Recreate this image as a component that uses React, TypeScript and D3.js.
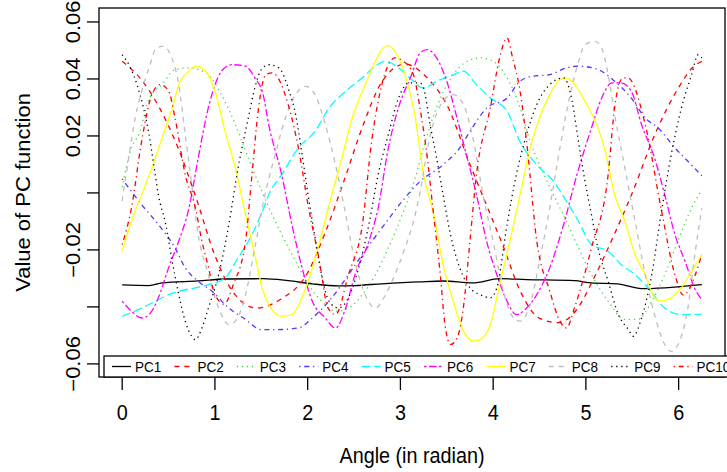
import React from "react";
import * as d3 from "d3";

const width = 727;
const height = 472;
const box = { left: 99, right: 725, top: 8, bottom: 377 };
const font = "'Liberation Sans', Arial, Helvetica, sans-serif";

// axis ticks
const xTicks = [0, 1, 2, 3, 4, 5, 6];
const yTicks = [-0.06, -0.04, -0.02, 0, 0.02, 0.04, 0.06];
const yTickLabels = ["−0.06", "", "−0.02", "", "0.02", "0.04", "0.06"];

// PC functions, [angle, value]
const pc1: [number, number][] = [
  [0, -0.0323], [0.29, -0.0325], [0.43, -0.0316], [0.82, -0.0309], [1.11, -0.0302],
  [1.52, -0.0301], [1.79, -0.0308], [2.05, -0.0319], [2.33, -0.0326], [2.51, -0.0325],
  [2.8, -0.0319], [3.21, -0.0312], [3.46, -0.0309], [3.78, -0.0316], [4.07, -0.0301],
  [4.36, -0.0304], [4.88, -0.0308], [5.06, -0.0316], [5.34, -0.0319], [5.6, -0.0336],
  [5.85, -0.0333], [6.25, -0.0322],
];
const pc2: [number, number][] = [
  [0, 0.0462], [0.2, 0.04], [0.4, 0.03], [0.6, 0.016], [0.8, -0.002], [1.0, -0.022],
  [1.2, -0.035], [1.45, -0.0404], [1.7, -0.0375], [2.0, -0.028], [2.2, -0.013],
  [2.4, 0.005], [2.6, 0.024], [2.8, 0.039], [3.05, 0.0452], [3.3, 0.04], [3.5, 0.031],
  [3.75, 0.01], [3.95, -0.006], [4.1, -0.018], [4.3, -0.035], [4.5, -0.044],
  [4.7, -0.0455], [4.9, -0.041], [5.1, -0.029], [5.3, -0.015], [5.5, 0.0], [5.75, 0.021],
  [6.0, 0.037], [6.15, 0.044], [6.25, 0.0462],
];
const pc3: [number, number][] = [
  [0, 0.002], [0.1, 0.016], [0.18, 0.0205], [0.29, 0.033], [0.43, 0.038], [0.57, 0.0433],
  [0.72, 0.0439], [0.82, 0.0433], [0.93, 0.0415], [1.07, 0.0345], [1.22, 0.024],
  [1.36, 0.0123], [1.5, 0.001], [1.58, -0.005], [1.72, -0.0146], [1.87, -0.024],
  [2.01, -0.0322], [2.15, -0.038], [2.3, -0.0415], [2.44, -0.0404], [2.59, -0.0357],
  [2.73, -0.0287], [2.87, -0.0193], [3.02, -0.0076], [3.16, 0.0053], [3.25, 0.016],
  [3.39, 0.03], [3.57, 0.0415], [3.72, 0.0462], [3.86, 0.0474], [4.0, 0.0462],
  [4.15, 0.0404], [4.29, 0.03], [4.4, 0.018], [4.5, 0.0099], [4.65, -0.0006],
  [4.79, -0.0099], [4.92, -0.0193], [5.06, -0.0287], [5.24, -0.038], [5.42, -0.0444],
  [5.56, -0.0444], [5.71, -0.038], [5.85, -0.0287], [5.99, -0.017], [6.14, -0.0053],
  [6.25, 0.0012],
];
const pc4: [number, number][] = [
  [0, 0.0049], [0.21, -0.0041], [0.39, -0.0111], [0.57, -0.0193], [0.68, -0.0263],
  [0.82, -0.031], [0.97, -0.0345], [1.15, -0.0404], [1.33, -0.0444], [1.5, -0.048],
  [1.65, -0.048], [1.9, -0.0474], [2.05, -0.0439], [2.26, -0.0368], [2.44, -0.0287],
  [2.59, -0.0216], [2.8, -0.0123], [3.02, -0.0029], [3.21, 0.004], [3.46, 0.0099],
  [3.64, 0.0158], [3.75, 0.0216], [3.93, 0.0298], [4.15, 0.0333], [4.29, 0.0392],
  [4.43, 0.041], [4.61, 0.0415], [4.79, 0.0439], [4.92, 0.0445], [5.13, 0.0433],
  [5.31, 0.0392], [5.49, 0.0333], [5.64, 0.0263], [5.78, 0.0228], [5.96, 0.0158],
  [6.1, 0.0111], [6.25, 0.006],
];
const pc5: [number, number][] = [
  [0, -0.0433], [0.21, -0.0404], [0.36, -0.038], [0.5, -0.0357], [0.61, -0.0345],
  [0.79, -0.0333], [0.93, -0.0322], [1.11, -0.0298], [1.25, -0.0228], [1.4, -0.0146],
  [1.52, -0.0058], [1.58, -0.0006], [1.72, 0.0064], [1.9, 0.0158], [2.08, 0.0216],
  [2.23, 0.0298], [2.41, 0.0357], [2.59, 0.0404], [2.73, 0.0445], [2.84, 0.0462],
  [2.98, 0.0439], [3.12, 0.0398], [3.25, 0.0368], [3.39, 0.0392], [3.57, 0.0415],
  [3.68, 0.0427], [3.82, 0.038], [3.97, 0.0333], [4.15, 0.0287], [4.29, 0.018],
  [4.47, 0.0099], [4.65, 0.0041], [4.79, -0.0029], [4.92, -0.0099], [5.06, -0.0181],
  [5.24, -0.0205], [5.38, -0.0251], [5.53, -0.0287], [5.67, -0.0333], [5.85, -0.0404],
  [6.03, -0.0427], [6.25, -0.0425],
];
const pc6: [number, number][] = [
  [0, -0.038], [0.1, -0.0415], [0.21, -0.0439], [0.29, -0.0427], [0.39, -0.0368],
  [0.5, -0.0263], [0.61, -0.0169], [0.72, -0.0053], [0.82, 0.0123], [0.93, 0.03],
  [1.07, 0.0427], [1.18, 0.045], [1.33, 0.0445], [1.43, 0.0404], [1.52, 0.0345],
  [1.58, 0.024], [1.72, 0.0064], [1.83, -0.0111], [1.94, -0.0263], [2.05, -0.038],
  [2.19, -0.0439], [2.3, -0.0474], [2.41, -0.0404], [2.51, -0.0287], [2.66, -0.017],
  [2.76, -0.0053], [2.87, 0.0158], [2.98, 0.03], [3.12, 0.0415], [3.21, 0.049],
  [3.29, 0.0503], [3.39, 0.0474], [3.5, 0.0392], [3.61, 0.0263], [3.72, 0.0123],
  [3.82, -0.0006], [3.93, -0.017], [4.04, -0.0287], [4.15, -0.038], [4.25, -0.0427],
  [4.36, -0.0404], [4.47, -0.0357], [4.61, -0.0263], [4.76, -0.0111], [4.9, 0.006],
  [5.06, 0.0228], [5.17, 0.0333], [5.28, 0.0386], [5.38, 0.0386], [5.49, 0.0357],
  [5.6, 0.024], [5.74, 0.0123], [5.85, -0.0006], [5.96, -0.0146], [6.07, -0.024],
  [6.17, -0.0333], [6.25, -0.0374],
];
const pc7: [number, number][] = [
  [0, -0.0205], [0.1, -0.0099], [0.21, -0.0006], [0.32, 0.0088], [0.43, 0.0193],
  [0.54, 0.0298], [0.61, 0.038], [0.72, 0.0427], [0.79, 0.0445], [0.9, 0.0427],
  [1.0, 0.0357], [1.11, 0.0216], [1.22, 0.0088], [1.33, -0.0076], [1.43, -0.0216],
  [1.51, -0.0335], [1.58, -0.0392], [1.72, -0.0433], [1.83, -0.0427], [1.94, -0.0368],
  [2.05, -0.0263], [2.15, -0.0146], [2.26, -0.0006], [2.37, 0.0123], [2.48, 0.0263],
  [2.62, 0.038], [2.73, 0.0462], [2.8, 0.0503], [2.87, 0.0518], [2.94, 0.0497],
  [3.05, 0.0415], [3.16, 0.0263], [3.25, 0.0064], [3.36, -0.0076], [3.46, -0.0251],
  [3.57, -0.038], [3.68, -0.0485], [3.79, -0.052], [3.86, -0.0515], [3.97, -0.0462],
  [4.07, -0.0322], [4.18, -0.017], [4.29, -0.0006], [4.4, 0.0158], [4.5, 0.0263],
  [4.61, 0.0345], [4.72, 0.0398], [4.79, 0.0404], [4.88, 0.038], [4.99, 0.0322],
  [5.1, 0.0252], [5.2, 0.0158], [5.31, -0.0006], [5.42, -0.0099], [5.53, -0.0216],
  [5.64, -0.0287], [5.74, -0.0368], [5.81, -0.038], [5.92, -0.0368], [6.03, -0.0333],
  [6.14, -0.0275], [6.25, -0.0216],
];
const pc8: [number, number][] = [
  [0, -0.0029], [0.07, 0.0123], [0.14, 0.0263], [0.21, 0.0357], [0.29, 0.0439],
  [0.37, 0.0509], [0.45, 0.0515], [0.52, 0.0485], [0.61, 0.038], [0.68, 0.0205],
  [0.75, 0.0029], [0.82, -0.0146], [0.93, -0.0287], [1.04, -0.0404], [1.15, -0.0462],
  [1.22, -0.045], [1.33, -0.0357], [1.43, -0.0193], [1.53, -0.002], [1.65, 0.0134],
  [1.76, 0.0263], [1.87, 0.0345], [1.98, 0.0374], [2.08, 0.0345], [2.19, 0.024],
  [2.3, 0.0099], [2.41, -0.0076], [2.51, -0.024], [2.62, -0.0357], [2.73, -0.0404],
  [2.84, -0.0357], [2.94, -0.0287], [3.05, -0.0193], [3.16, -0.0076], [3.21, 0.0],
  [3.32, 0.02], [3.46, 0.0322], [3.57, 0.0345], [3.68, 0.031], [3.79, 0.018],
  [3.89, -0.0006], [4.0, -0.017], [4.11, -0.0345], [4.22, -0.0439], [4.29, -0.045],
  [4.4, -0.0392], [4.5, -0.024], [4.61, -0.0053], [4.72, 0.0158], [4.83, 0.0345],
  [4.92, 0.046], [4.99, 0.052], [5.1, 0.0532], [5.17, 0.0509], [5.24, 0.0415],
  [5.31, 0.0275], [5.42, 0.0088], [5.53, -0.0099], [5.64, -0.0287], [5.74, -0.0427],
  [5.85, -0.0532], [5.92, -0.0556], [6.01, -0.052], [6.1, -0.0404], [6.17, -0.0228],
  [6.25, -0.0053],
];
const pc9: [number, number][] = [
  [0, 0.0485], [0.09, 0.0439], [0.16, 0.038], [0.23, 0.0298], [0.29, 0.0205],
  [0.34, 0.0099], [0.39, -0.0006], [0.47, -0.0111], [0.54, -0.024], [0.61, -0.0357],
  [0.68, -0.045], [0.75, -0.0503], [0.79, -0.0515], [0.86, -0.0474], [0.93, -0.0404],
  [1.04, -0.0287], [1.15, -0.0111], [1.25, 0.0088], [1.36, 0.0263], [1.43, 0.0368],
  [1.5, 0.0433], [1.58, 0.045], [1.69, 0.0439], [1.8, 0.0357], [1.87, 0.0275],
  [1.94, 0.0134], [2.01, -0.0018], [2.08, -0.0158], [2.15, -0.0287], [2.23, -0.038],
  [2.33, -0.0404], [2.44, -0.0368], [2.55, -0.0263], [2.66, -0.0111], [2.76, 0.0064],
  [2.87, 0.0205], [2.98, 0.0333], [3.09, 0.0386], [3.21, 0.0386], [3.25, 0.0368],
  [3.32, 0.024], [3.39, 0.0123], [3.46, -0.0006], [3.54, -0.0146], [3.64, -0.0263],
  [3.75, -0.0333], [3.86, -0.0357], [3.97, -0.0368], [4.04, -0.0333], [4.15, -0.0111],
  [4.25, 0.0064], [4.36, 0.0205], [4.47, 0.031], [4.61, 0.038], [4.76, 0.0404],
  [4.85, 0.0325], [4.92, 0.018], [4.99, 0.0041], [5.06, -0.0076], [5.13, -0.0193],
  [5.24, -0.031], [5.35, -0.0427], [5.46, -0.048], [5.51, -0.0503], [5.6, -0.0439],
  [5.71, -0.0287], [5.81, -0.0076], [5.92, 0.0134], [6.03, 0.0298], [6.14, 0.0415],
  [6.21, 0.0485], [6.25, 0.0474],
];
const pc10: [number, number][] = [
  [0, -0.0181], [0.1, -0.0053], [0.21, 0.0182], [0.32, 0.0345], [0.41, 0.038],
  [0.5, 0.0358], [0.57, 0.0263], [0.68, 0.0064], [0.79, -0.0053], [0.86, -0.017],
  [0.93, -0.026], [1.0, -0.0357], [1.1, -0.039], [1.2, -0.032], [1.33, -0.0169],
  [1.4, 0.0065], [1.47, 0.0298], [1.55, 0.0415], [1.62, 0.0421], [1.79, 0.031],
  [1.9, 0.0158], [2.01, -0.0053], [2.12, -0.0228], [2.22, -0.0404], [2.3, -0.0427],
  [2.44, -0.0287], [2.59, -0.0111], [2.69, 0.0182], [2.8, 0.038], [2.94, 0.0474],
  [3.02, 0.0465], [3.14, 0.0415], [3.21, 0.03], [3.29, 0.0123], [3.35, -0.0053],
  [3.43, -0.0287], [3.48, -0.046], [3.54, -0.0532], [3.61, -0.051], [3.68, -0.04],
  [3.75, -0.0168], [3.82, 0.0064], [3.97, 0.03], [4.07, 0.0474], [4.15, 0.0544],
  [4.21, 0.0474], [4.29, 0.0358], [4.36, 0.0182], [4.47, -0.0168], [4.61, -0.0344],
  [4.72, -0.045], [4.79, -0.0474], [4.88, -0.04], [5.06, -0.0193], [5.24, 0.0064],
  [5.31, 0.03], [5.4, 0.0404], [5.45, 0.0404], [5.64, 0.024], [5.81, -0.0053],
  [5.96, -0.0287], [6.05, -0.0358], [6.18, -0.0287], [6.25, -0.0216],
];

const pcNames = ["PC1", "PC2", "PC3", "PC4", "PC5", "PC6", "PC7", "PC8", "PC9", "PC10"];
const pcSeries = [pc1, pc2, pc3, pc4, pc5, pc6, pc7, pc8, pc9, pc10];

// R's palette 1:8 and lty 1:6, recycled (green and blue lightened to look like the picture)
const colors = ["#000000", "#FF0000", "#44D944", "#5533FF", "#00FFFF", "#FF00FF", "#FFFF00", "#BEBEBE", "#000000", "#FF0000"];
const dashes = ["", "5 5", "1.25 3.75", "1.25 3.75 5 3.75", "8.75 3.75", "2.5 2.5 7.5 2.5", "", "5 5", "1.25 3.75", "1.25 3.75 5 3.75"];

// horizontal text looks a bit narrow in the picture
const HText = ({ x, y, size, anchor = "middle", children }: any) => (
  <text
    transform={`translate(${x},${y}) scale(0.9,1)`}
    fontSize={size}
    textAnchor={anchor}
    fill="black"
  >
    {children}
  </text>
);

const VText = ({ x, y, size, children }: any) => (
  <text
    transform={`translate(${x},${y}) rotate(-90) scale(1,0.9)`}
    fontSize={size}
    textAnchor="middle"
    fill="black"
  >
    {children}
  </text>
);

const App = () => {
  const xScale = d3.scaleLinear().domain([-0.25, 6.5]).range([box.left, box.right]);
  const yScale = d3.scaleLinear().domain([-0.0646, 0.0649]).range([box.bottom, box.top]);
  const line = d3
    .line<[number, number]>()
    .x(d => xScale(d[0]))
    .y(d => yScale(d[1]))
    .curve(d3.curveMonotoneX);

  const legendX = 112;
  const legendStep = 62.4;
  const legendY = 366.5;

  return (
    <svg
      width={width}
      height={height}
      style={{ position: "absolute", left: 0, top: 0, background: "white" }}
      fontFamily={font}
    >
      {pcSeries.map((s, i) => (
        <path
          key={pcNames[i]}
          d={line(s) || ""}
          fill="none"
          stroke={colors[i]}
          strokeWidth={1.3}
          strokeDasharray={dashes[i]}
        />
      ))}

      <rect
        x={box.left}
        y={box.top}
        width={box.right - box.left}
        height={box.bottom - box.top}
        fill="none"
        stroke="black"
        strokeWidth={1.3}
      />

      {/* legend, runs off the right edge as in the original */}
      <rect x={104} y={356} width={660} height={21} fill="white" stroke="black" strokeWidth={1.3} />
      {pcNames.map((name, i) => {
        const x0 = legendX + legendStep * i;
        return (
          <g key={name}>
            <line
              x1={x0}
              x2={x0 + 19}
              y1={legendY}
              y2={legendY}
              stroke={colors[i]}
              strokeWidth={1.3}
              strokeDasharray={dashes[i]}
            />
            <HText x={x0 + 23} y={legendY + 5.5} size={15} anchor="start">
              {name}
            </HText>
          </g>
        );
      })}

      {/* x axis */}
      {xTicks.map(t => (
        <g key={t}>
          <line x1={xScale(t)} x2={xScale(t)} y1={box.bottom} y2={box.bottom + 13} stroke="black" strokeWidth={1.3} />
          <HText x={xScale(t)} y={420} size={22}>
            {t}
          </HText>
        </g>
      ))}

      {/* y axis */}
      {yTicks.map((t, i) => (
        <g key={t}>
          <line x1={box.left - 12} x2={box.left} y1={yScale(t)} y2={yScale(t)} stroke="black" strokeWidth={1.3} />
          {yTickLabels[i] && (
            <VText x={80} y={yScale(t)} size={22}>
              {yTickLabels[i]}
            </VText>
          )}
        </g>
      ))}

      <HText x={(box.left + box.right) / 2} y={463} size={22}>
        Angle (in radian)
      </HText>
      <VText x={30} y={(box.top + box.bottom) / 2} size={22}>
        Value of PC function
      </VText>
    </svg>
  );
};

export default App;
